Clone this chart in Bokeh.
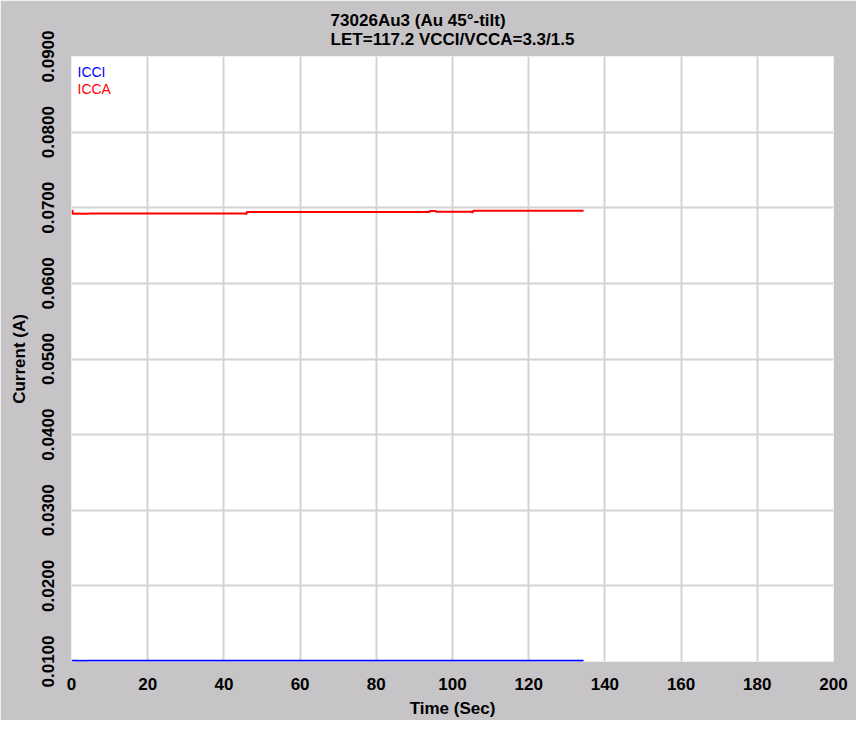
from bokeh.plotting import figure
from bokeh.models import Title, Label, FixedTicker, PrintfTickFormatter, Range1d
from bokeh.embed import file_html
from bokeh.resources import INLINE

# ---- data ----
icci_t = [0.0, 2.0, 2.3, 2.8, 3.1, 3.6, 3.9, 134.4]
icci_v = [0.0101, 0.0100, 0.0101, 0.0100, 0.0101, 0.0100, 0.0101, 0.0101]

icca_t = [0.0, 0.3, 1.0, 1.3, 2.0, 2.3, 4.5, 45.5, 46.0, 94.0, 95.6, 105.0, 105.4, 134.4]
icca_v = [0.0696, 0.0692, 0.06925, 0.0692, 0.06925, 0.0692, 0.06925, 0.0692,
          0.06945, 0.06958, 0.06947, 0.0694, 0.0696, 0.0696]

x_ticks = [0, 20, 40, 60, 80, 100, 120, 140, 160, 180, 200]
y_ticks = [0.01, 0.02, 0.03, 0.04, 0.05, 0.06, 0.07, 0.08, 0.09]

title_lines = ["73026Au3 (Au 45°-tilt)", "LET=117.2 VCCI/VCCA=3.3/1.5"]
x_label = "Time (Sec)"
y_label = "Current (A)"
series_names = ["ICCI", "ICCA"]
series_colors = ["#0000ff", "#ff0000"]

# ---- styling ----
FONT = "Liberation Sans, Arial, sans-serif"
GRAY = "#c6c4c6"
W, H = 856, 720
ML, MR, MT, MB = 71, 23, 53, 59

p = figure(width=W, height=H, output_backend="svg", toolbar_location=None,
           x_range=Range1d(0, 200), y_range=Range1d(0.01, 0.09),
           min_border_left=ML, min_border_right=MR,
           min_border_top=MT, min_border_bottom=MB)

p.background_fill_color = "white"
p.border_fill_color = GRAY
p.outline_line_color = None

p.add_layout(Title(text="\n".join(title_lines), align="center", text_font=FONT,
                   text_font_size="17px", text_font_style="bold",
                   text_color="black", standoff=16, offset=0,
                   text_line_height=1.0), "above")

# axes
for ax in (p.xaxis[0], p.yaxis[0]):
    ax.axis_line_color = None
    ax.major_tick_line_color = None
    ax.minor_tick_line_color = None
    ax.major_tick_out = 0
    ax.major_tick_in = 0
    ax.major_label_text_font = FONT
    ax.major_label_text_font_size = "17px"
    ax.major_label_text_font_style = "bold"
    ax.major_label_text_color = "black"
    ax.axis_label_text_font = FONT
    ax.axis_label_text_font_size = "17px"
    ax.axis_label_text_font_style = "bold"
    ax.axis_label_text_color = "black"

p.xaxis.ticker = FixedTicker(ticks=x_ticks)
p.yaxis.ticker = FixedTicker(ticks=y_ticks)
p.yaxis.formatter = PrintfTickFormatter(format="%.4f")
p.yaxis.major_label_orientation = "vertical"
p.xaxis.axis_label = x_label
p.yaxis.axis_label = y_label
p.xaxis.major_label_standoff = 16
p.yaxis.major_label_standoff = 18
p.xaxis.axis_label_standoff = 6
p.yaxis.axis_label_standoff = 10

# grid
p.xgrid.ticker = FixedTicker(ticks=x_ticks)
p.ygrid.ticker = FixedTicker(ticks=y_ticks)
for g in (p.xgrid[0], p.ygrid[0]):
    g.grid_line_color = "#d4d4d4"
    g.grid_line_width = 2

# series
p.step(icca_t, icca_v, mode="after", line_color=series_colors[1], line_width=2)
p.step(icci_t, icci_v, mode="after", line_color=series_colors[0], line_width=2)

# legend text (inside top-left of the plot area)
frame_h = H - MT - MB
for i, (name, col) in enumerate(zip(series_names, series_colors)):
    p.add_layout(Label(x=6, y=frame_h - 18 - 17 * i, x_units="screen", y_units="screen",
                       text=name, text_color=col, text_font=FONT,
                       text_font_size="14px", text_baseline="middle"))

open("out.html", "w").write(file_html(p, INLINE))
